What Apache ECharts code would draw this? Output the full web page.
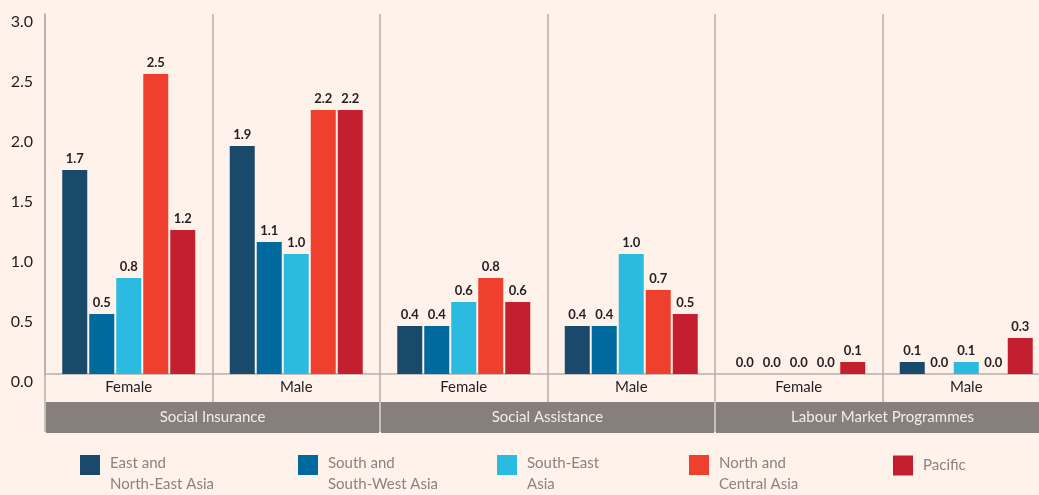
<!DOCTYPE html>
<html>
<head>
<meta charset="utf-8">
<script src="https://cdn.jsdelivr.net/npm/echarts@6/dist/echarts.min.js"></script>
<style>
  html, body { margin: 0; padding: 0; background: #fef2eb; }
  #chart { width: 1039px; height: 495px; }
</style>
</head>
<body>
<div id="chart"></div>
<script>
const genders = ["Female", "Male", "Female", "Male", "Female", "Male"];
const programmes = ["Social Insurance", "Social Assistance", "Labour Market Programmes"];
const yTicks = [0, 0.5, 1.0, 1.5, 2.0, 2.5, 3.0];

const eastNorthEast = [1.7, 1.9, 0.4, 0.4, 0.0, 0.1];
const southSouthWest = [0.5, 1.1, 0.4, 0.4, 0.0, 0.0];
const southEast = [0.8, 1.0, 0.6, 1.0, 0.0, 0.1];
const northCentral = [2.5, 2.2, 0.8, 0.7, 0.0, 0.0];
const pacific = [1.2, 2.2, 0.6, 0.5, 0.1, 0.3];

const seriesNames = [
  "East and\nNorth-East Asia",
  "South and\nSouth-West Asia",
  "South-East\nAsia",
  "North and\nCentral Asia",
  "Pacific",
];
const seriesData = [eastNorthEast, southSouthWest, southEast, northCentral, pacific];
const colors = ["#1a4a6b", "#00699e", "#2bbbe0", "#ee402d", "#c41f2f"];
const legendLeft = [80, 298, 497, 689, 893];

const font = "Lato, 'Open Sans', sans-serif";
const lineColor = "#b4aeaa";

const chart = echarts.init(document.getElementById("chart"));

const series = seriesData.map((data, i) => ({
  name: seriesNames[i],
  type: "bar",
  data: data,
  barWidth: 25,
  barGap: "8%",
  itemStyle: { color: colors[i] },
  label: {
    show: true,
    position: "top",
    distance: 5,
    color: "#231f20",
    fontFamily: font,
    fontSize: 13,
    fontWeight: "bold",
    formatter: (p) => p.value.toFixed(1),
  },
}));

// one legend per item so each one sits at its own spot;
// two-line names get a spacer line so the square lines up with the first line
const legends = seriesNames.map((name, i) => {
  const twoLines = name.indexOf("\n") >= 0;
  return {
    data: [name],
    left: legendLeft[i],
    top: twoLines ? 435 : 455,
    padding: 0,
    icon: "rect",
    itemWidth: 20,
    itemHeight: 20,
    itemGap: 0,
    selectedMode: false,
    formatter: (n) => (n.indexOf("\n") >= 0 ? "{s| }\n" + n : n),
    textStyle: {
      color: "#8a8380",
      fontFamily: font,
      fontSize: 15,
      lineHeight: 21,
      padding: [0, 0, 0, 5],
      rich: {
        s: { fontSize: 10, lineHeight: 18, height: 18 },
      },
    },
  };
});

const option = {
  backgroundColor: "#fef2eb",
  animation: false,
  color: colors,
  legend: legends,
  grid: {
    left: 45,
    width: 1005,
    top: 14,
    bottom: 121,
    containLabel: false,
    outerBoundsMode: "none",
  },
  xAxis: [
    {
      type: "category",
      data: genders,
      position: "bottom",
      axisLine: { show: true, lineStyle: { color: lineColor, width: 1.5 } },
      axisTick: { show: true, length: 58, lineStyle: { color: lineColor, width: 1.5 } },
      splitLine: { show: true, lineStyle: { color: lineColor, width: 1.5 } },
      axisLabel: {
        color: "#231f20",
        fontFamily: font,
        fontSize: 15,
        margin: 6,
      },
    },
    {
      type: "category",
      data: programmes,
      position: "bottom",
      axisLine: { show: false },
      axisTick: { show: false },
      axisLabel: {
        interval: 0,
        hideOverlap: false,
        margin: 28,
        verticalAlign: "top",
        width: 333,
        height: 31,
        lineHeight: 31,
        align: "center",
        backgroundColor: "#877f7b",
        color: "#f3ede9",
        fontFamily: font,
        fontSize: 15,
      },
    },
  ],
  yAxis: {
    type: "value",
    min: yTicks[0],
    max: yTicks[yTicks.length - 1],
    interval: 0.5,
    axisLine: { show: true, lineStyle: { color: lineColor, width: 1.5 } },
    axisTick: { show: false },
    splitLine: { show: false },
    axisLabel: {
      color: "#231f20",
      fontFamily: font,
      fontSize: 16,
      margin: 12,
      verticalAlign: "top",
      formatter: (v) => v.toFixed(1),
    },
  },
  series: series,
};

chart.setOption(option);
</script>
</body>
</html>
